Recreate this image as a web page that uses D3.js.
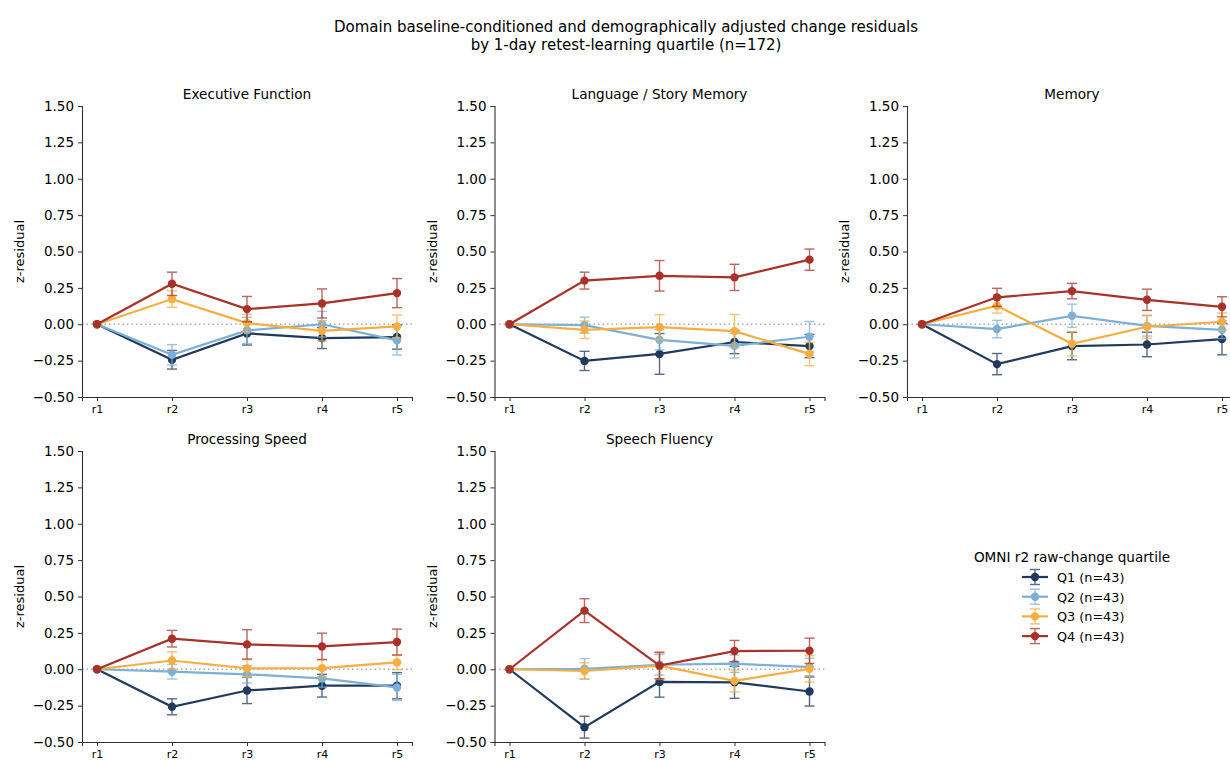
<!DOCTYPE html>
<html>
<head>
<meta charset="utf-8">
<script src="https://cdn.jsdelivr.net/npm/d3@7"></script>
<style>
  body { margin: 0; background: #fff; }
  svg { display: block; font-family: "DejaVu Sans", sans-serif; }
</style>
</head>
<body>
<svg id="chart" width="1230" height="760"></svg>
<script>
// Retest sessions on the x axis
const sessions = ["r1", "r2", "r3", "r4", "r5"];
const quartiles = ["Q1 (n=43)", "Q2 (n=43)", "Q3 (n=43)", "Q4 (n=43)"];
const quartileColors = ["#213a5c", "#7db0d6", "#f6ae43", "#a8322a"];
const domains = ["Executive Function", "Language / Story Memory", "Memory", "Processing Speed", "Speech Fluency"];
const yTicks = [-0.5, -0.25, 0, 0.25, 0.5, 0.75, 1.0, 1.25, 1.5];

// Mean z-residuals per domain, one row per quartile (Q1..Q4), columns r1..r5
const execMean = [
  [0, -0.244, -0.063, -0.095, -0.088],
  [0, -0.210, -0.042, 0.000, -0.111],
  [0, 0.173, 0.008, -0.045, -0.015],
  [0, 0.278, 0.104, 0.143, 0.214]
];
const execErr = [
  [0, 0.064, 0.080, 0.072, 0.083],
  [0, 0.070, 0.090, 0.088, 0.100],
  [0, 0.057, 0.060, 0.070, 0.078],
  [0, 0.080, 0.087, 0.100, 0.100]
];
const langMean = [
  [0, -0.252, -0.204, -0.122, -0.150],
  [0, -0.006, -0.107, -0.148, -0.086],
  [0, -0.038, -0.020, -0.047, -0.205],
  [0, 0.300, 0.333, 0.322, 0.444]
];
const langErr = [
  [0, 0.066, 0.140, 0.080, 0.080],
  [0, 0.055, 0.070, 0.084, 0.105],
  [0, 0.060, 0.086, 0.114, 0.080],
  [0, 0.058, 0.105, 0.090, 0.073]
];
const memMean = [
  [0, -0.274, -0.150, -0.139, -0.102],
  [0, -0.033, 0.058, -0.011, -0.038],
  [0, 0.127, -0.134, -0.017, 0.017],
  [0, 0.185, 0.228, 0.168, 0.120]
];
const memErr = [
  [0, 0.073, 0.094, 0.084, 0.108],
  [0, 0.060, 0.080, 0.070, 0.060],
  [0, 0.050, 0.083, 0.080, 0.060],
  [0, 0.062, 0.053, 0.073, 0.069]
];
const speedMean = [
  [0, -0.258, -0.146, -0.113, -0.113],
  [0, -0.017, -0.035, -0.063, -0.125],
  [0, 0.060, 0.006, 0.008, 0.047],
  [0, 0.210, 0.171, 0.157, 0.187]
];
const speedErr = [
  [0, 0.055, 0.090, 0.078, 0.090],
  [0, 0.050, 0.060, 0.060, 0.090],
  [0, 0.060, 0.060, 0.060, 0.050],
  [0, 0.057, 0.101, 0.091, 0.089]
];
const fluencyMean = [
  [0, -0.398, -0.087, -0.090, -0.153],
  [0, 0.003, 0.031, 0.038, 0.015],
  [0, -0.012, 0.025, -0.080, 0.003],
  [0, 0.403, 0.025, 0.125, 0.127]
];
const fluencyErr = [
  [0, 0.075, 0.105, 0.110, 0.100],
  [0, 0.070, 0.070, 0.060, 0.060],
  [0, 0.057, 0.095, 0.075, 0.090],
  [0, 0.082, 0.090, 0.073, 0.087]
];

const panelMeans = [execMean, langMean, memMean, speedMean, fluencyMean];
const panelErrs = [execErr, langErr, memErr, speedErr, fluencyErr];

const svg = d3.select("#chart");

// Figure title
svg.append("text").attr("x", 626).attr("y", 32).attr("text-anchor", "middle")
  .attr("font-size", 15).attr("fill", "#000")
  .text("Domain baseline-conditioned and demographically adjusted change residuals");
svg.append("text").attr("x", 626).attr("y", 50).attr("text-anchor", "middle")
  .attr("font-size", 15).attr("fill", "#000")
  .text("by 1-day retest-learning quartile (n=172)");

const panelW = 330, panelH = 291;
const colX = [82, 494.5, 907];
const rowY = [106, 451];

domains.forEach((name, i) => {
  const left = colX[i % 3], top = rowY[Math.floor(i / 3)];
  const g = svg.append("g").attr("transform", `translate(${left},${top})`);

  const x = d3.scalePoint().domain(sessions).range([0, panelW]).padding(0.2);
  const y = d3.scaleLinear().domain([-0.5, 1.5]).range([panelH, 0]);

  // zero reference
  g.append("line").attr("x1", 0).attr("x2", panelW)
    .attr("y1", y(0)).attr("y2", y(0))
    .attr("stroke", "#aaaaaa").attr("stroke-width", 1.5)
    .attr("stroke-dasharray", "1.5,3");

  // axes
  const yAxis = g.append("g").call(d3.axisLeft(y).tickValues(yTicks)
    .tickFormat(d => d3.format(".2f")(d).replace("-", "\u2212")).tickSize(4).tickPadding(4));
  yAxis.selectAll("text").attr("font-size", 13.5).attr("fill", "#000")
    .attr("font-family", "DejaVu Sans");
  const xAxis = g.append("g").attr("transform", `translate(0,${panelH})`)
    .call(d3.axisBottom(x).tickSize(4).tickPadding(4));
  xAxis.selectAll("text").attr("font-size", 11).attr("fill", "#000")
    .attr("font-family", "DejaVu Sans");
  [yAxis, xAxis].forEach(a => {
    a.select(".domain").attr("stroke", "#333").attr("stroke-width", 1.1);
    a.selectAll(".tick line").attr("stroke", "#333");
  });

  // panel title and y label
  g.append("text").attr("x", panelW / 2).attr("y", -7).attr("text-anchor", "middle")
    .attr("font-size", 13.6).attr("fill", "#000").text(name);
  g.append("text").attr("transform", `translate(${-58},${panelH / 2}) rotate(-90)`)
    .attr("text-anchor", "middle").attr("font-size", 13).attr("fill", "#000")
    .text("z-residual");

  const means = panelMeans[i], errs = panelErrs[i];
  const line = d3.line().x((d, j) => x(sessions[j])).y(d => y(d));

  quartiles.forEach((q, k) => {
    const color = quartileColors[k];
    const s = g.append("g");
    // error bars
    means[k].forEach((m, j) => {
      const e = errs[k][j];
      if (e <= 0) return;
      const cx = x(sessions[j]);
      const eb = s.append("g").attr("stroke", color).attr("stroke-width", 1.4).attr("opacity", 0.75);
      eb.append("line").attr("x1", cx).attr("x2", cx).attr("y1", y(m - e)).attr("y2", y(m + e));
      eb.append("line").attr("x1", cx - 5).attr("x2", cx + 5).attr("y1", y(m - e)).attr("y2", y(m - e));
      eb.append("line").attr("x1", cx - 5).attr("x2", cx + 5).attr("y1", y(m + e)).attr("y2", y(m + e));
    });
    s.append("path").datum(means[k]).attr("d", line)
      .attr("fill", "none").attr("stroke", color).attr("stroke-width", 2.2);
    s.selectAll("circle").data(means[k]).join("circle")
      .attr("cx", (d, j) => x(sessions[j])).attr("cy", d => y(d))
      .attr("r", 4.2).attr("fill", color);
  });
});

// Legend
const lg = svg.append("g");
lg.append("text").attr("x", 1072).attr("y", 562).attr("text-anchor", "middle")
  .attr("font-size", 13.6).attr("fill", "#000").text("OMNI r2 raw-change quartile");
quartiles.forEach((q, k) => {
  const cy = 577 + k * 19.7;
  const color = quartileColors[k];
  const h = lg.append("g");
  h.append("line").attr("x1", 1022).attr("x2", 1048).attr("y1", cy).attr("y2", cy)
    .attr("stroke", color).attr("stroke-width", 2.2);
  const eb = h.append("g").attr("stroke", color).attr("stroke-width", 1.4).attr("opacity", 0.75);
  eb.append("line").attr("x1", 1035).attr("x2", 1035).attr("y1", cy - 7.5).attr("y2", cy + 7.5);
  eb.append("line").attr("x1", 1030).attr("x2", 1040).attr("y1", cy - 7.5).attr("y2", cy - 7.5);
  eb.append("line").attr("x1", 1030).attr("x2", 1040).attr("y1", cy + 7.5).attr("y2", cy + 7.5);
  h.append("circle").attr("cx", 1035).attr("cy", cy).attr("r", 4.2).attr("fill", color);
  h.append("text").attr("x", 1057).attr("y", cy + 5).attr("font-size", 12.8).attr("fill", "#000").text(q);
});
</script>
</body>
</html>
